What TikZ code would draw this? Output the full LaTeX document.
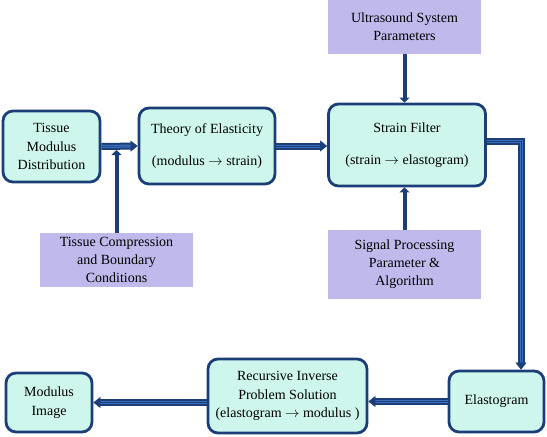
\documentclass[tikz,border=0pt]{standalone}
\usepackage{fontspec}
\setmainfont{Liberation Serif}
\usetikzlibrary{arrows.meta}
\definecolor{navy}{RGB}{28,62,120}
\definecolor{midblue}{RGB}{60,110,190}
\definecolor{boxfill}{RGB}{206,246,236}
\definecolor{purp}{RGB}{191,185,236}
\tikzset{
  proc/.style={draw=navy, line width=2.8pt, fill=boxfill, rounded corners=10pt, align=center, inner sep=0pt, font=\fontsize{14}{18.5}\selectfont},
  param/.style={fill=purp, align=center, inner sep=0pt, font=\fontsize{14}{18}\selectfont},
  dblarrow/.style={draw=navy, line width=0.5pt, -{Triangle[length=7pt,width=11pt]},
     preaction={draw=navy, arrows=-, line width=2pt, double=midblue, double distance=3pt, shorten >=5pt}},
  sglarrow/.style={draw=navy, line width=4pt, -{Triangle[length=5pt,width=10pt]}}
}
\begin{document}
\begin{tikzpicture}[x=1pt,y=-1pt]
\useasboundingbox (0,0) rectangle (547,437);
\node[proc, minimum width=97pt, minimum height=71pt] (tmd) at (51.5,146.5) {Tissue\\Modulus\\Distribution};
\node[proc, minimum width=136pt, minimum height=76pt] (toe) at (207,146) {Theory of Elasticity\\[14pt](modulus $\rightarrow$ strain)};
\node[proc, minimum width=157pt, minimum height=82pt] (sf) at (407,145) {Strain Filter\\[14pt](strain $\rightarrow$ elastogram)};
\node[param, minimum width=153pt, minimum height=54pt] (usp) at (404.5,27) {Ultrasound System\\Parameters};
\node[param, minimum width=153pt, minimum height=54pt] (tc) at (116.5,260) {Tissue Compression\\and Boundary\\Conditions};
\node[param, minimum width=153pt, minimum height=69pt] (spa) at (404.5,264.5) {Signal Processing\\Parameter \&\\Algorithm};
\node[proc, minimum width=95pt, minimum height=61pt] (ela) at (496.5,401.5) {Elastogram};
\node[proc, minimum width=159pt, minimum height=74pt] (rip) at (287.5,396) {Recursive Inverse\\Problem Solution\\(elastogram $\rightarrow$ modulus )};
\node[proc, minimum width=86pt, minimum height=59pt] (mi) at (49,402.5) {Modulus\\Image};
\coordinate (join) at (tc.north |- 0,150);
\coordinate (corner) at (521,141);
\draw[dblarrow] (tmd.east) -- (toe.west);
\draw[dblarrow] (toe.east) -- (sf.west |- toe.east);
\draw[sglarrow] (tc.north) -- (join);
\draw[sglarrow] (usp.south) -- (sf.north -| usp.south);
\draw[sglarrow] (spa.north) -- (sf.south -| spa.north);
\draw[dblarrow] (sf.east |- corner) -- (corner) -- (corner |- ela.north);
\draw[dblarrow] (ela.west) -- (ela.west -| rip.east);
\draw[dblarrow] (rip.west |- mi.east) -- (mi.east);
\end{tikzpicture}
\end{document}
